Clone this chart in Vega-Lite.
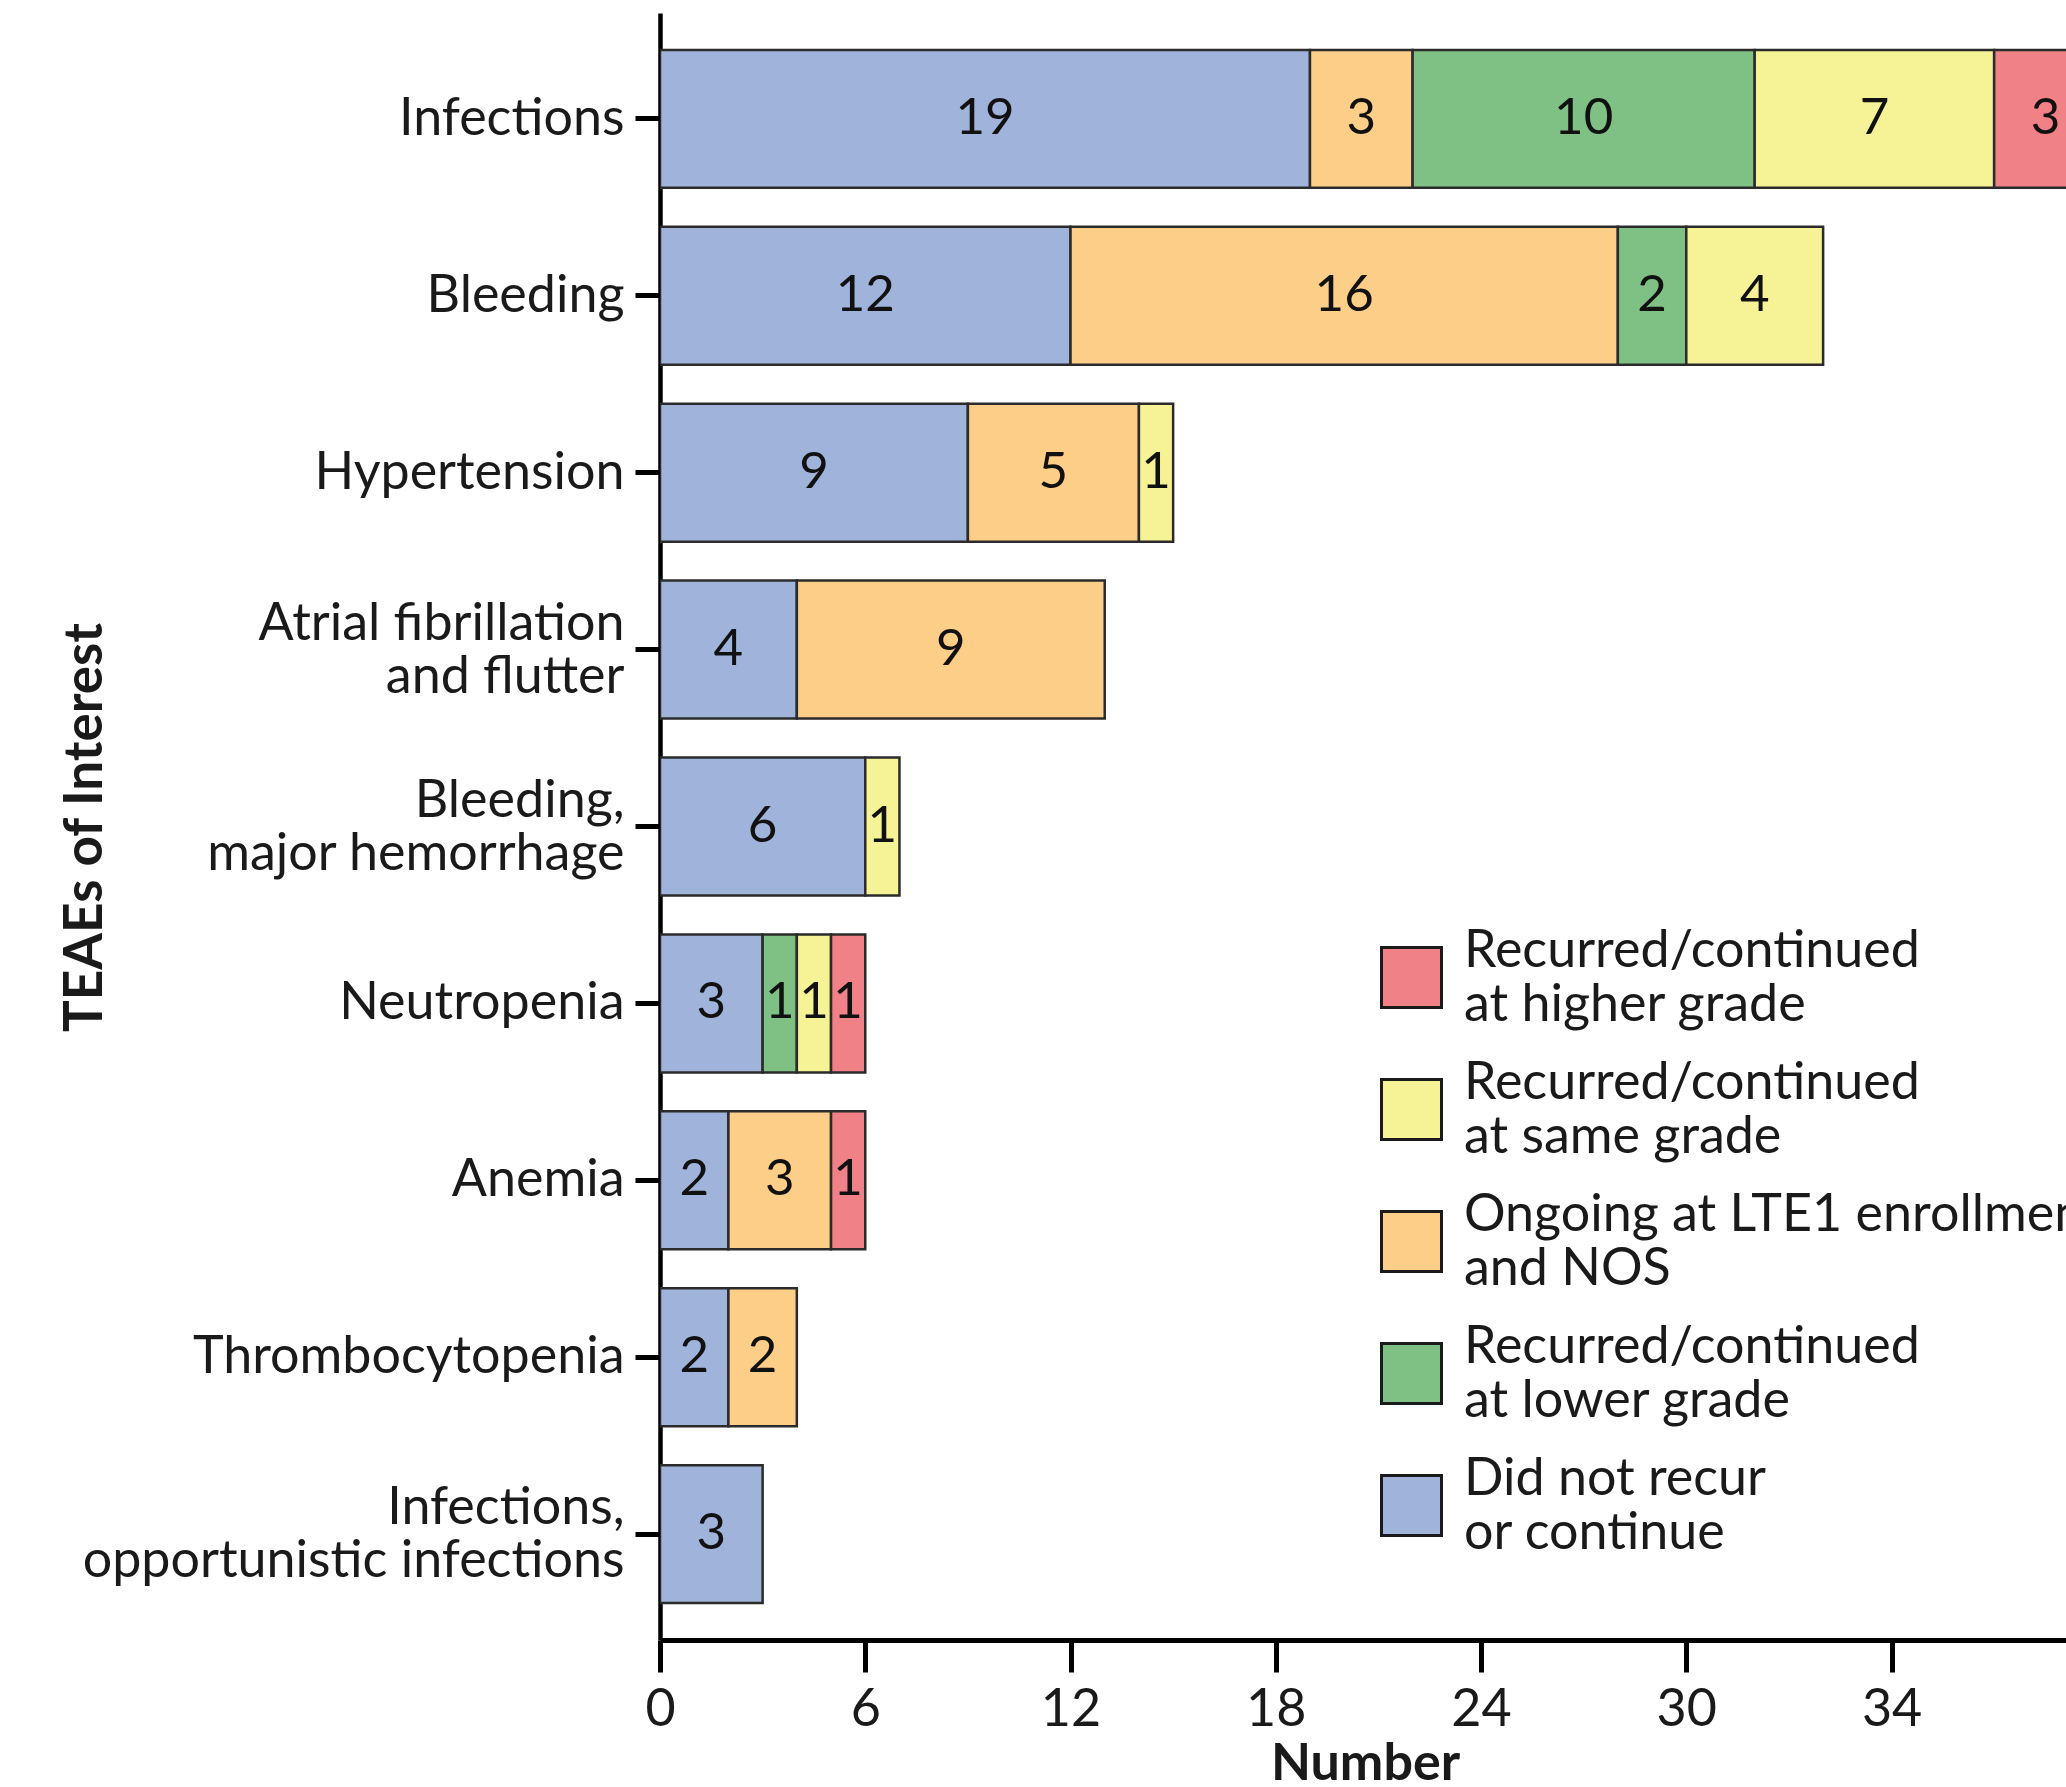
{
  "$schema": "https://vega.github.io/schema/vega-lite/v6.json",
  "autosize": {"type": "none"},
  "padding": {"left": 660, "top": 13, "right": 0, "bottom": 147},
  "width": 1406,
  "height": 1627,
  "background": "white",
  "config": {"view": {"stroke": null}, "font": "Lato"},
  "data": {
    "values": [
      {"category": "Infections", "status": "Did not recur or continue", "n": 19, "rank": 1},
      {"category": "Infections", "status": "Ongoing at LTE1 enrollment and NOS", "n": 3, "rank": 2},
      {"category": "Infections", "status": "Recurred/continued at lower grade", "n": 10, "rank": 3},
      {"category": "Infections", "status": "Recurred/continued at same grade", "n": 7, "rank": 4},
      {"category": "Infections", "status": "Recurred/continued at higher grade", "n": 3, "rank": 5},
      {"category": "Bleeding", "status": "Did not recur or continue", "n": 12, "rank": 1},
      {"category": "Bleeding", "status": "Ongoing at LTE1 enrollment and NOS", "n": 16, "rank": 2},
      {"category": "Bleeding", "status": "Recurred/continued at lower grade", "n": 2, "rank": 3},
      {"category": "Bleeding", "status": "Recurred/continued at same grade", "n": 4, "rank": 4},
      {"category": "Hypertension", "status": "Did not recur or continue", "n": 9, "rank": 1},
      {"category": "Hypertension", "status": "Ongoing at LTE1 enrollment and NOS", "n": 5, "rank": 2},
      {"category": "Hypertension", "status": "Recurred/continued at same grade", "n": 1, "rank": 4},
      {"category": "Atrial fibrillation and flutter", "status": "Did not recur or continue", "n": 4, "rank": 1},
      {"category": "Atrial fibrillation and flutter", "status": "Ongoing at LTE1 enrollment and NOS", "n": 9, "rank": 2},
      {"category": "Bleeding, major hemorrhage", "status": "Did not recur or continue", "n": 6, "rank": 1},
      {"category": "Bleeding, major hemorrhage", "status": "Recurred/continued at same grade", "n": 1, "rank": 4},
      {"category": "Neutropenia", "status": "Did not recur or continue", "n": 3, "rank": 1},
      {"category": "Neutropenia", "status": "Recurred/continued at lower grade", "n": 1, "rank": 3},
      {"category": "Neutropenia", "status": "Recurred/continued at same grade", "n": 1, "rank": 4},
      {"category": "Neutropenia", "status": "Recurred/continued at higher grade", "n": 1, "rank": 5},
      {"category": "Anemia", "status": "Did not recur or continue", "n": 2, "rank": 1},
      {"category": "Anemia", "status": "Ongoing at LTE1 enrollment and NOS", "n": 3, "rank": 2},
      {"category": "Anemia", "status": "Recurred/continued at higher grade", "n": 1, "rank": 5},
      {"category": "Thrombocytopenia", "status": "Did not recur or continue", "n": 2, "rank": 1},
      {"category": "Thrombocytopenia", "status": "Ongoing at LTE1 enrollment and NOS", "n": 2, "rank": 2},
      {"category": "Infections, opportunistic infections", "status": "Did not recur or continue", "n": 3, "rank": 1}
    ]
  },
  "encoding": {
    "y": {
      "field": "category",
      "type": "nominal",
      "sort": ["Infections", "Bleeding", "Hypertension", "Atrial fibrillation and flutter", "Bleeding, major hemorrhage", "Neutropenia", "Anemia", "Thrombocytopenia", "Infections, opportunistic infections"],
      "scale": {"paddingInner": 0.22, "paddingOuter": 0.2085},
      "axis": {
        "title": "TEAEs of Interest",
        "titleFont": "Lato",
        "titleFontSize": 53,
        "titleFontWeight": "bold",
        "titleColor": "#1a1a1a",
        "titleAngle": -90,
        "titleX": -559,
        "titleY": 814,
        "titleAlign": "center",
        "titleBaseline": "alphabetic",
        "labelFont": "Lato",
        "labelFontSize": 52,
        "labelColor": "#1a1a1a",
        "labelPadding": 11,
        "labelLineHeight": 53,
        "labelLimit": 1000,
        "labelOffset": {
          "condition": {"test": "datum.value == 'Atrial fibrillation and flutter' || datum.value == 'Bleeding, major hemorrhage' || datum.value == 'Infections, opportunistic infections'", "value": -26},
          "value": 0
        },
        "labelExpr": "datum.label == 'Atrial fibrillation and flutter' ? ['Atrial fibrillation', 'and flutter'] : datum.label == 'Bleeding, major hemorrhage' ? ['Bleeding,', 'major hemorrhage'] : datum.label == 'Infections, opportunistic infections' ? ['Infections,', 'opportunistic infections'] : datum.label",
        "tickSize": 25,
        "tickWidth": 5,
        "tickColor": "#000000",
        "domainColor": "#000000",
        "domainWidth": 4.5
      }
    }
  },
  "layer": [
    {
      "mark": {"type": "bar", "stroke": "#2b2b2b", "strokeWidth": 2.5, "clip": true, "opacity": 1},
      "encoding": {
        "x": {
          "field": "n",
          "type": "quantitative",
          "stack": "zero",
          "scale": {"domain": [0, 41.1], "nice": false, "zero": true},
          "axis": {
            "title": "Number",
            "titleFont": "Lato",
            "titleFontSize": 52,
            "titleFontWeight": "bold",
            "titleColor": "#1a1a1a",
            "titleX": 705,
            "titleY": 139,
            "titleAlign": "center",
            "titleBaseline": "alphabetic",
            "values": [0, 6, 12, 18, 24, 30, 36],
            "labelExpr": "datum.value == 36 ? '34' : datum.label",
            "labelFlush": false,
            "labelFont": "Lato",
            "labelFontSize": 52,
            "labelColor": "#1a1a1a",
            "labelPadding": 12,
            "tickSize": 32,
            "tickWidth": 5,
            "tickColor": "#000000",
            "domainColor": "#000000",
            "domainWidth": 5,
            "grid": false
          }
        },
        "color": {
          "field": "status",
          "type": "nominal",
          "scale": {
            "domain": ["Recurred/continued at higher grade", "Recurred/continued at same grade", "Ongoing at LTE1 enrollment and NOS", "Recurred/continued at lower grade", "Did not recur or continue"],
            "range": ["#EF8187", "#F6F296", "#FDCE88", "#7FC184", "#A0B4DB"]
          },
          "legend": {
            "orient": "none",
            "legendX": 720,
            "legendY": 933,
            "title": null,
            "padding": 0,
            "symbolType": "square",
            "symbolSize": 3600,
            "symbolStrokeColor": "#1a1a1a",
            "symbolStrokeWidth": 3,
            "symbolOpacity": 1,
            "labelFont": "Lato",
            "labelFontSize": 52,
            "labelColor": "#1a1a1a",
            "labelOffset": 21,
            "labelLimit": 1000,
            "labelBaseline": "bottom",
            "rowPadding": 25,
            "labelExpr": "datum.label == 'Ongoing at LTE1 enrollment and NOS' ? ['Ongoing at LTE1 enrollment', 'and NOS'] : datum.label == 'Did not recur or continue' ? ['Did not recur', 'or continue'] : split(replace(datum.label, ' at ', '|at '), '|')"
          }
        },
        "order": {"field": "rank", "type": "quantitative"}
      }
    },
    {
      "mark": {"type": "text", "font": "Lato", "fontSize": 51, "color": "#111111", "baseline": "middle", "align": "center"},
      "encoding": {
        "x": {"field": "n", "type": "quantitative", "stack": "zero", "bandPosition": 0.5},
        "detail": {"field": "status"},
        "order": {"field": "rank", "type": "quantitative"},
        "text": {"field": "n", "type": "quantitative"}
      }
    }
  ]
}
